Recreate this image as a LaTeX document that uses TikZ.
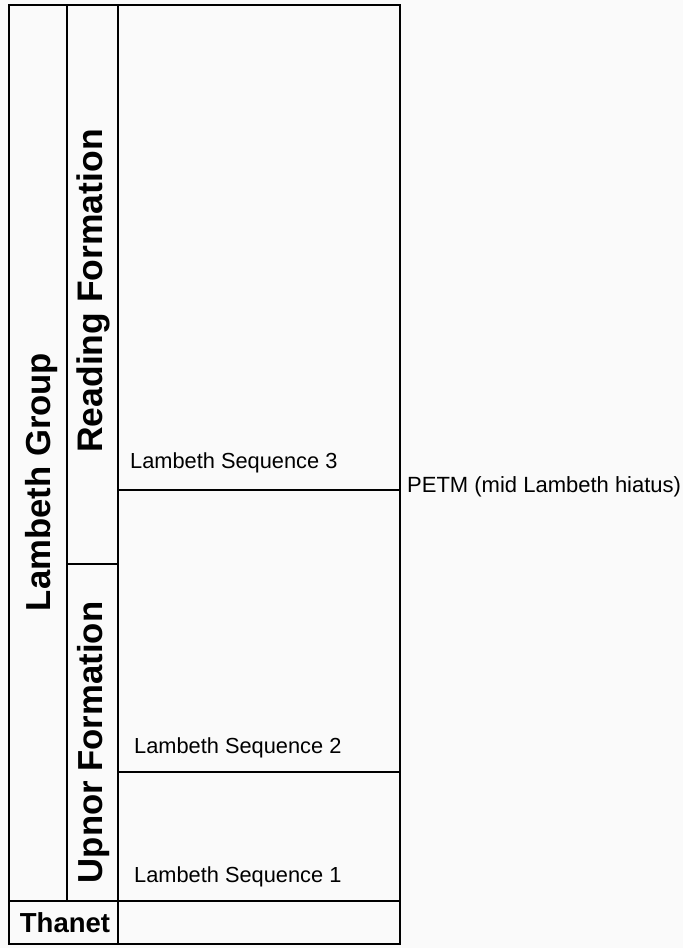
\documentclass[tikz,border=0pt]{standalone}
\usepackage{fontspec}
\setmainfont{Liberation Sans}
\definecolor{bg}{RGB}{250,250,250}
\begin{document}
\begin{tikzpicture}[x=1pt,y=1pt,
  rule/.style={line width=2.6pt,black},
  seqlabel/.style={anchor=base west,inner sep=0pt,font=\fontsize{21.8}{26}\selectfont},
  vlabel/.style={anchor=base,inner sep=0pt,rotate=90,font=\fontsize{34.7}{40}\selectfont\bfseries}]
\fill[bg] (0,0) rectangle (683,948);
\useasboundingbox (0,0) rectangle (683,948);
% frame and columns
\draw[rule] (9,4) rectangle (400,943);
\draw[rule] (67,943) -- (67,47);
\draw[rule] (118,943) -- (118,4);
\draw[rule] (9,47) -- (400,47);
\draw[rule] (118,458) -- (400,458);
\draw[rule] (67,384) -- (118,384);
\draw[rule] (118,176) -- (400,176);
% vertical labels
\node[vlabel] (grp) at (50,466) {Lambeth Group};
\node[vlabel,font=\fontsize{35.5}{40}\selectfont\bfseries] (rdg) at (102,657) {Reading Formation};
\node[vlabel] (upn) at (102,205.5) {Upnor Formation};
\node[anchor=base,inner sep=0pt,font=\fontsize{27.5}{32}\selectfont\bfseries] (thn) at (65,15) {Thanet};
% sequence labels
\node[seqlabel] (s3) at (130,479) {Lambeth Sequence 3};
\node[seqlabel] (s2) at (134,194) {Lambeth Sequence 2};
\node[seqlabel] (s1) at (134,65) {Lambeth Sequence 1};
\node[seqlabel,font=\fontsize{22}{26}\selectfont] (petm) at (407,455) {PETM (mid Lambeth hiatus)};
\end{tikzpicture}
\end{document}
